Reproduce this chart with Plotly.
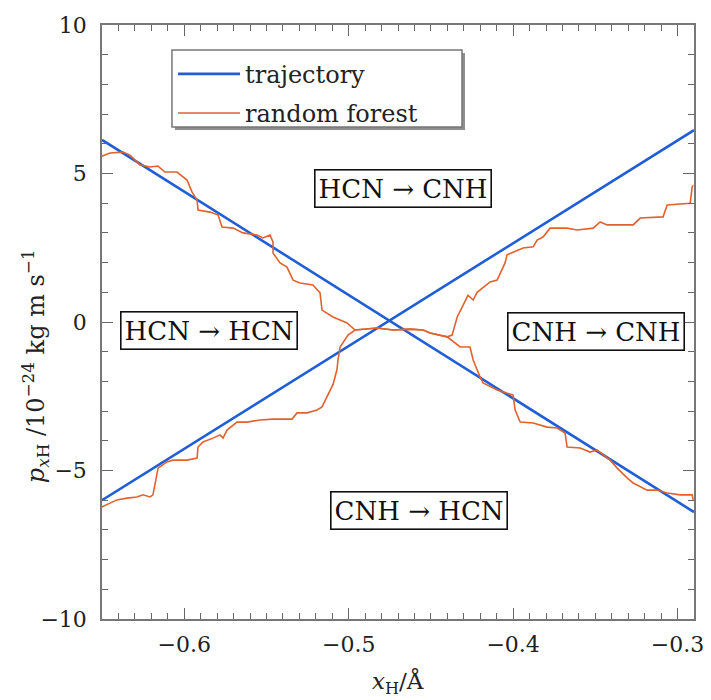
import plotly.graph_objects as go

# Trajectory (two straight branches in phase space)
traj_down_x = [-0.65, -0.29]
traj_down_p = [6.13, -6.40]
traj_up_x = [-0.65, -0.29]
traj_up_p = [-6.00, 6.46]

# Random forest boundary, descending branch (upper-left -> lower-right)
rf1_x = [-0.6512, -0.6451, -0.6372, -0.633, -0.6269, -0.6208, -0.616, -0.6117, -0.6044,
         -0.5983, -0.5953, -0.5922, -0.5916, -0.5843, -0.5794, -0.577, -0.5703, -0.5642,
         -0.5557, -0.5521, -0.5478, -0.546, -0.546, -0.5417, -0.5375, -0.5338, -0.5296,
         -0.5217, -0.5174, -0.5162, -0.5095, -0.501, -0.4961, -0.4827, -0.473, -0.4627,
         -0.4547, -0.4505, -0.4401, -0.4322, -0.4262, -0.4243, -0.4201, -0.4183, -0.4097,
         -0.4037, -0.4, -0.3988, -0.3957, -0.3878, -0.3793, -0.3732, -0.3684, -0.3672,
         -0.3592, -0.3532, -0.3489, -0.341, -0.3367, -0.3307, -0.327, -0.3185, -0.3124,
         -0.3063, -0.2984, -0.2911, -0.2905]
rf1_p = [5.56, 5.69, 5.72, 5.62, 5.29, 5.22, 5.25, 5.05, 5.05,
         4.78, 4.38, 4.11, 3.77, 3.70, 3.60, 3.20, 3.16, 3.00,
         2.93, 2.83, 2.93, 2.69, 2.32, 1.99, 1.85, 1.41, 1.31,
         1.25, 0.98, 0.40, 0.17, -0.03, -0.27, -0.20, -0.27, -0.24,
         -0.27, -0.37, -0.50, -0.84, -0.84, -1.28, -1.85, -2.05, -2.29,
         -2.39, -2.46, -2.96, -3.37, -3.40, -3.54, -3.57, -3.74, -4.21,
         -4.24, -4.38, -4.31, -4.65, -4.92, -5.25, -5.42, -5.66, -5.66,
         -5.76, -5.82, -5.82, -5.99]

# Random forest boundary, ascending branch (lower-left -> upper-right)
rf2_x = [-0.6512, -0.647, -0.6409, -0.6348, -0.6287, -0.6251, -0.6208, -0.619, -0.6165,
         -0.6159, -0.6105, -0.6068, -0.5983, -0.5922, -0.5916, -0.5886, -0.5825, -0.5782,
         -0.5764, -0.574, -0.5679, -0.5618, -0.5539, -0.546, -0.5344, -0.5314, -0.5253,
         -0.5192, -0.5162, -0.5131, -0.5095, -0.5071, -0.5065, -0.5052, -0.5004, -0.4961,
         -0.4827, -0.473, -0.4627, -0.4547, -0.4505, -0.4401, -0.4371, -0.434, -0.431,
         -0.4274, -0.4243, -0.4219, -0.414, -0.4097, -0.4049, -0.4037, -0.3939, -0.3878,
         -0.3854, -0.3818, -0.3775, -0.3672, -0.3611, -0.3513, -0.3471, -0.3428, -0.327,
         -0.3227, -0.3088, -0.3063, -0.2923, -0.2911, -0.2905]
rf2_p = [-6.26, -6.16, -5.99, -5.93, -5.89, -5.82, -5.89, -5.82, -5.08,
         -4.92, -4.71, -4.65, -4.65, -4.58, -4.21, -4.04, -3.91, -3.80,
         -3.91, -3.64, -3.37, -3.37, -3.30, -3.27, -3.27, -3.06, -3.06,
         -2.96, -2.86, -2.53, -2.10, -1.60, -1.28, -0.84, -0.44, -0.27,
         -0.20, -0.27, -0.24, -0.27, -0.37, -0.50, -0.44, 0.17, 0.50,
         0.90, 0.74, 1.00, 1.35, 1.41, 1.99, 2.26, 2.49, 2.53,
         2.76, 2.86, 3.16, 3.16, 3.10, 3.16, 3.37, 3.27, 3.27,
         3.50, 3.54, 3.94, 4.00, 4.55, 4.60]

# Region labels
region_text = ["HCN → CNH", "HCN → HCN", "CNH → CNH", "CNH → HCN"]
region_x = [-0.4669, -0.5852, -0.3495, -0.4572]
region_p = [4.51, -0.30, -0.32, -6.33]

x_range = [-0.65, -0.29]
y_range = [-10, 10]
x_ticks = [-0.6, -0.5, -0.4, -0.3]
y_ticks = [-10, -5, 0, 5, 10]

BLUE = "#1f5ed6"
ORANGE = "#e0622d"
FONT = "DejaVu Serif"

fig = go.Figure()
fig.add_trace(go.Scatter(
    x=traj_down_x + [None] + traj_up_x,
    y=traj_down_p + [None] + traj_up_p,
    mode="lines", name="trajectory", legendgroup="a",
    line=dict(color=BLUE, width=2.6),
))
fig.add_trace(go.Scatter(
    x=rf1_x + [None] + rf2_x,
    y=rf1_p + [None] + rf2_p,
    mode="lines", name="random forest", legendgroup="b",
    line=dict(color=ORANGE, width=1.6),
))

for t, xx, yy in zip(region_text, region_x, region_p):
    fig.add_annotation(
        x=xx, y=yy, xref="x", yref="y", text=t, showarrow=False,
        font=dict(family=FONT, size=26, color="#111"),
        bordercolor="#111", borderwidth=1.6, borderpad=3, bgcolor="white",
    )

# Axis titles as annotations (paper coordinates)
fig.add_annotation(
    x=-0.145, y=0.425, xref="paper", yref="paper",
    text="<i>p</i><sub><i>x</i>H</sub> /10<sup>−24</sup> kg m s<sup>−1</sup>",
    textangle=-90, showarrow=False,
    font=dict(family=FONT, size=24, color="#222"),
)
fig.add_annotation(
    x=0.5, y=-0.137, xref="paper", yref="paper", yanchor="bottom",
    text="<i>x</i><sub>H</sub>/Å", showarrow=False,
    font=dict(family=FONT, size=23, color="#222"),
)

# Legend frame with drop shadow (drawn as shapes, legend itself is transparent)
fig.add_shape(type="rect", xref="paper", yref="paper",
              x0=0.1233, x1=0.6132, y0=0.8232, y1=0.9529,
              line=dict(width=0), fillcolor="#8f8f8f", layer="above")
fig.add_shape(type="rect", xref="paper", yref="paper",
              x0=0.1182, x1=0.6081, y0=0.8283, y1=0.9579,
              line=dict(width=1.5, color="#777"), fillcolor="white", layer="above")

axis_common = dict(
    showgrid=False, zeroline=False, showline=True, linecolor="#777", linewidth=1.5,
    mirror="ticks", ticks="inside", ticklen=11, tickwidth=1.3, tickcolor="#666",
    tickfont=dict(family=FONT, size=22, color="#222"), automargin=False,
)

fig.update_xaxes(
    range=x_range, tickvals=x_ticks, ticktext=[f"−{abs(v):.1f}" for v in x_ticks],
    minor=dict(dtick=0.01, ticks="inside", ticklen=6, tickcolor="#666", tickwidth=1.2),
    ticklabelstandoff=5,
    **axis_common,
)
fig.update_yaxes(
    range=y_range, tickvals=y_ticks,
    ticktext=[("−" + str(abs(v))) if v < 0 else str(v) for v in y_ticks],
    minor=dict(dtick=1, ticks="inside", ticklen=6, tickcolor="#666", tickwidth=1.2),
    ticklabelstandoff=9,
    **axis_common,
)

fig.update_layout(
    width=711, height=700,
    margin=dict(l=102, r=17, t=25, b=81),
    plot_bgcolor="white", paper_bgcolor="white",
    showlegend=True,
    legend=dict(
        x=0.12, y=0.955, xanchor="left", yanchor="top",
        bgcolor="rgba(0,0,0,0)", borderwidth=0,
        font=dict(family=FONT, size=24, color="#222"),
        itemwidth=62, tracegroupgap=5,
    ),
    font=dict(family=FONT),
)

fig.write_html("out.html")
